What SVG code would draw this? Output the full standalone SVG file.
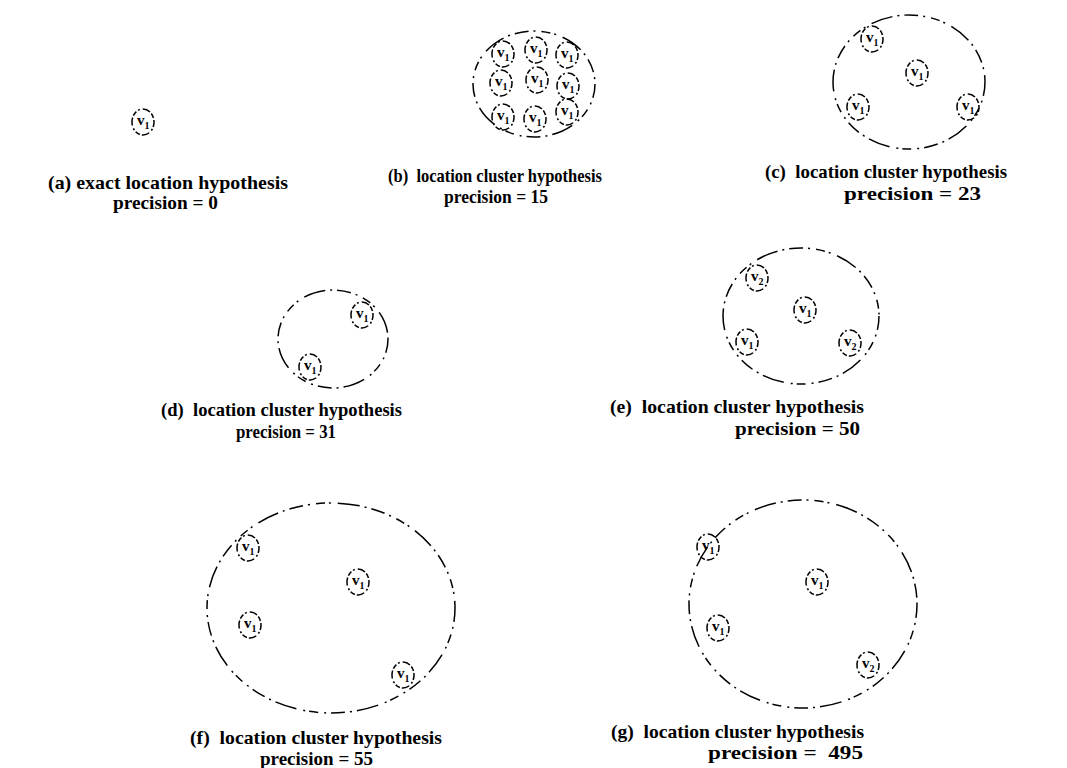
<svg xmlns="http://www.w3.org/2000/svg" width="1067" height="768" viewBox="0 0 1067 768">
<style>
.big{fill:none;stroke:#000;stroke-width:1.5;stroke-dasharray:14 5 2 6 9 4 2 7 22 5 2 5}
.sm{fill:none;stroke:#000;stroke-width:1.5;stroke-dasharray:5 2 2 3 8 2}
.v{font-family:"Liberation Serif",serif;font-weight:bold;font-size:15px;fill:#000}
.sub{font-size:10px}
.lbl{font-family:"Liberation Serif",serif;font-weight:bold;font-size:19px;fill:#000}
</style>
<defs>
<g id="n1"><ellipse class="sm" cx="0" cy="0" rx="11" ry="13"/><text class="v" x="-6" y="3">v<tspan class="sub" dy="4">1</tspan></text></g>
<g id="n2"><ellipse class="sm" cx="0" cy="0" rx="11" ry="13"/><text class="v" x="-6" y="3">v<tspan class="sub" dy="4">2</tspan></text></g>
</defs>
<rect width="1067" height="768" fill="#fff"/>
<g id="a">
<use href="#n1" x="143" y="122"/>
<text class="lbl" x="48" y="189" font-size="19.5" textLength="240" lengthAdjust="spacingAndGlyphs">(a) exact location hypothesis</text>
<text class="lbl" x="113" y="209" textLength="105" lengthAdjust="spacingAndGlyphs">precision = 0</text>
</g>
<g id="b">
<ellipse class="big" cx="534" cy="84" rx="61" ry="53"/>
<use href="#n1" x="503" y="54"/><use href="#n1" x="536" y="50"/><use href="#n1" x="567" y="55"/>
<use href="#n1" x="501" y="83"/><use href="#n1" x="537" y="80"/><use href="#n1" x="568" y="86"/>
<use href="#n1" x="503" y="117"/><use href="#n1" x="535" y="119"/><use href="#n1" x="567" y="112"/>
<text class="lbl" x="388" y="182" font-size="16.5" textLength="214" lengthAdjust="spacingAndGlyphs" xml:space="preserve">(b)  location cluster hypothesis</text>
<text class="lbl" x="444" y="203" font-size="17" textLength="104" lengthAdjust="spacingAndGlyphs">precision = 15</text>
</g>
<g id="c">
<ellipse class="big" cx="909" cy="82" rx="76" ry="67"/>
<use href="#n1" x="872" y="39"/><use href="#n1" x="917" y="73"/><use href="#n1" x="858" y="107"/><use href="#n1" x="968" y="107"/>
<text class="lbl" x="765" y="178" textLength="242" lengthAdjust="spacingAndGlyphs" xml:space="preserve">(c)  location cluster hypothesis</text>
<text class="lbl" x="844" y="200" font-size="20.5" textLength="137" lengthAdjust="spacingAndGlyphs">precision = 23</text>
</g>
<g id="d">
<ellipse class="big" cx="333" cy="339" rx="55" ry="49"/>
<use href="#n1" x="362" y="315"/><use href="#n1" x="310" y="367"/>
<text class="lbl" x="161" y="416" font-size="18" textLength="241" lengthAdjust="spacingAndGlyphs" xml:space="preserve">(d)  location cluster hypothesis</text>
<text class="lbl" x="236" y="438" font-size="17" textLength="100" lengthAdjust="spacingAndGlyphs">precision = 31</text>
</g>
<g id="e">
<ellipse class="big" cx="801" cy="316" rx="78" ry="68"/>
<use href="#n2" x="757" y="278"/><use href="#n1" x="805" y="310"/><use href="#n1" x="747" y="342"/><use href="#n2" x="850" y="343"/>
<text class="lbl" x="610" y="413" font-size="19.5" textLength="254" lengthAdjust="spacingAndGlyphs" xml:space="preserve">(e)  location cluster hypothesis</text>
<text class="lbl" x="735" y="435" font-size="20" textLength="125" lengthAdjust="spacingAndGlyphs">precision = 50</text>
</g>
<g id="f">
<ellipse class="big" cx="331" cy="608" rx="124" ry="105"/>
<use href="#n1" x="248" y="548"/><use href="#n1" x="358" y="582"/><use href="#n1" x="250" y="625"/><use href="#n1" x="403" y="675"/>
<text class="lbl" x="190" y="744" font-size="19.5" textLength="252" lengthAdjust="spacingAndGlyphs" xml:space="preserve">(f)  location cluster hypothesis</text>
<text class="lbl" x="260" y="765" textLength="113" lengthAdjust="spacingAndGlyphs">precision = 55</text>
</g>
<g id="g">
<ellipse class="big" cx="803" cy="604" rx="114" ry="104"/>
<use href="#n1" x="708" y="547"/><use href="#n1" x="817" y="582"/><use href="#n1" x="718" y="628"/><use href="#n2" x="868" y="665"/>
<text class="lbl" x="611" y="738" font-size="19.5" textLength="253" lengthAdjust="spacingAndGlyphs" xml:space="preserve">(g)  location cluster hypothesis</text>
<text class="lbl" x="708" y="759" font-size="20.5" textLength="155" lengthAdjust="spacingAndGlyphs" xml:space="preserve">precision =  495</text>
</g>
</svg>
